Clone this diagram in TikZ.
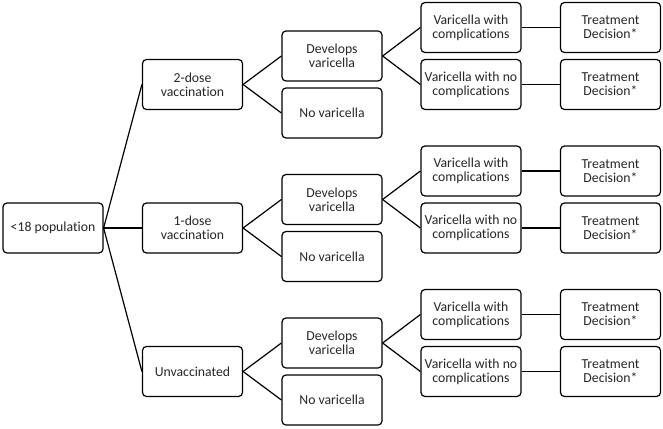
\documentclass[tikz,border=0pt]{standalone}
\usepackage{fontspec}
\setmainfont{Carlito}[Ligatures=NoCommon]
\begin{document}
\begin{tikzpicture}[x=0.75pt, y=-0.75pt, line width=0.9pt,
	box/.style={draw, rounded corners=3pt, minimum width=75pt, minimum height=37.5pt, align=center, inner sep=1pt, font=\fontsize{10.3pt}{10.6pt}\selectfont, text=black!85}]
	\useasboundingbox (0, 0) rectangle (663, 428);

	\node[box] (pop) at (53, 228) {<18 population};

	\foreach \g/\y/\lab in {2/84.5/{2-dose\\vaccination}, 1/228/{1-dose\\vaccination}, 0/371.5/{Unvaccinated}} {
		\node[box] (dose\g) at (192.5, \y) {\lab};
		\node[box] (dev\g) at (332, \y-28.5) {Develops\\varicella};
		\node[box] (nov\g) at (332, \y+28.5) {No varicella};
		\node[box] (comp\g) at (471, \y-57) {Varicella with\\complications};
		\node[box] (nocomp\g) at (471, \y) {Varicella with no\\complications};
		\node[box] (treatA\g) at (610.5, \y-57) {Treatment\\Decision*};
		\node[box] (treatB\g) at (610.5, \y) {Treatment\\Decision*};

		\draw (pop.east) -- (dose\g.west);
		\draw (dose\g.east) -- (dev\g.west);
		\draw (dose\g.east) -- (nov\g.west);
		\draw (dev\g.east) -- (comp\g.west);
		\draw (dev\g.east) -- (nocomp\g.west);
		\draw (comp\g) -- (treatA\g);
		\draw (nocomp\g) -- (treatB\g);
	}
\end{tikzpicture}
\end{document}
